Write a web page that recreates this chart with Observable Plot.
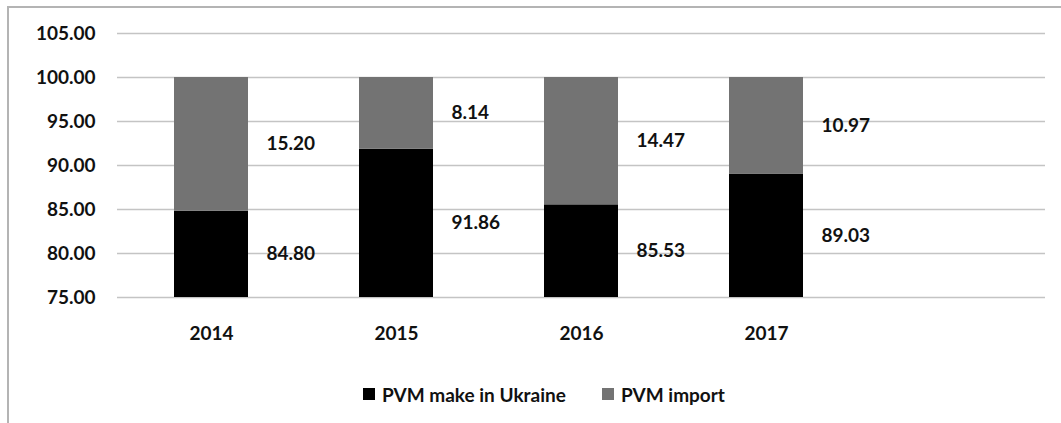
<!DOCTYPE html>
<html><head><meta charset="utf-8">
<script src="https://cdn.jsdelivr.net/npm/d3@7"></script>
<script src="https://cdn.jsdelivr.net/npm/@observablehq/plot@0.6"></script>
<style>
html,body{margin:0;padding:0;background:#fff;}
body{position:relative;width:1061px;height:423px;overflow:hidden;font-family:Lato,"Open Sans",sans-serif;}
#frame{position:absolute;left:7px;top:6px;width:1200px;height:600px;border-top:2px solid #b4b4b4;border-left:2px solid #b4b4b4;}
#chart{position:absolute;left:0;top:0;}
#legend{position:absolute;left:0;top:382px;width:1061px;height:24px;font-size:19px;font-weight:bold;color:#111;}
.item{position:absolute;top:0;display:flex;align-items:center;height:24px;white-space:nowrap;}
.sw{width:12px;height:12px;margin-right:7px;}
</style></head>
<body><div id="frame"></div><div id="chart"></div><div id="legend"></div>
<script>
const years = ["2014", "2015", "2016", "2017"];
const makeInUkraine = [84.80, 91.86, 85.53, 89.03];
const pvmImport = [15.20, 8.14, 14.47, 10.97];
const seriesNames = ["PVM make in Ukraine", "PVM import"];
const seriesColors = ["#000000", "#737373"];
const yTicks = [75, 80, 85, 90, 95, 100, 105];

const rows = years.flatMap((yr, i) => [
  {year: yr, series: seriesNames[0], value: makeInUkraine[i]},
  {year: yr, series: seriesNames[1], value: pvmImport[i]}
]);
const yMin = yTicks[0];
const labels = years.flatMap((yr, i) => [
  {year: yr, v: makeInUkraine[i], y: (yMin + makeInUkraine[i]) / 2},
  {year: yr, v: pvmImport[i], y: makeInUkraine[i] + pvmImport[i] / 2}
]);

const chart = Plot.plot({
  width: 1061, height: 350,
  marginLeft: 117, marginRight: 16, marginTop: 33, marginBottom: 53,
  style: {fontFamily: "Lato, 'Open Sans', sans-serif", background: "transparent", color: "#111"},
  x: {domain: [...years, ""], paddingInner: 0.6, paddingOuter: 0.3, axis: null, label: null},
  y: {domain: [yTicks[0], yTicks[yTicks.length - 1]], axis: null, label: null},
  color: {domain: seriesNames, range: seriesColors},
  marks: [
    Plot.ruleY(yTicks, {stroke: "#c4c4c4", strokeWidth: 1.3}),
    Plot.barY(rows, Plot.stackY({x: "year", y: "value", fill: "series", clip: true})),
    Plot.axisY({ticks: yTicks, tickSize: 0, tickPadding: 22, tickFormat: d => d.toFixed(2), fontSize: 19, fontWeight: "bold", label: null}),
    Plot.axisX({tickSize: 0, tickPadding: 29, fontSize: 19, fontWeight: "bold", tickFormat: d => d, label: null}),
    Plot.text(labels, {x: "year", y: "y", text: d => d.v.toFixed(2), dx: 55, textAnchor: "start", fontSize: 19, fontWeight: "bold", fill: "#111"})
  ]
});
document.getElementById("chart").appendChild(chart);

const legend = document.getElementById("legend");
const legendLeft = [363, 602];
seriesNames.forEach((name, i) => {
  const it = document.createElement("div");
  it.className = "item";
  it.style.left = legendLeft[i] + "px";
  const sw = document.createElement("span");
  sw.className = "sw";
  sw.style.background = seriesColors[i];
  it.appendChild(sw);
  it.appendChild(document.createTextNode(name));
  legend.appendChild(it);
});
</script>
</body></html>
